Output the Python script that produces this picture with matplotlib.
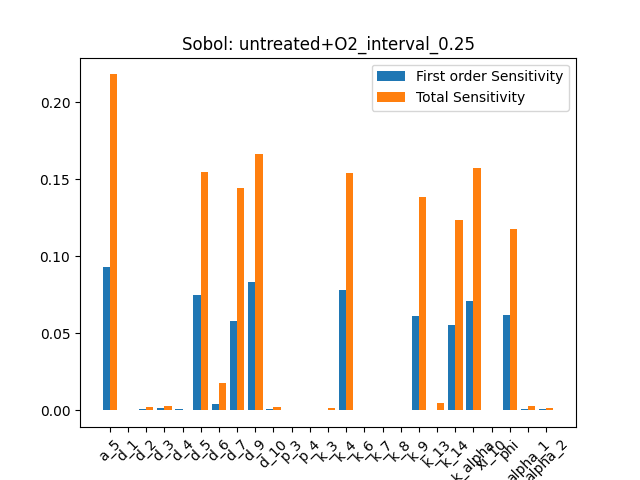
import matplotlib
matplotlib.use("Agg")
import matplotlib.pyplot as plt
import numpy as np

params = ['a_5', 'd_1', 'd_2', 'd_3', 'd_4', 'd_5', 'd_6', 'd_7', 'd_9', 'd_10',
          'p_3', 'p_4', 'k_3', 'k_4', 'k_6', 'k_7', 'k_8', 'k_9', 'k_13', 'k_14',
          'k_alpha', 'xi_10', 'phi', 'alpha_1', 'alpha_2']

# first order indices can come out slightly negative
first_order = [0.0929, 0.0, 0.0007, 0.0013, 0.0007, 0.0747, 0.0039, 0.0578, 0.0831, 0.0007,
               0.0, 0.0, 0.0, 0.0779, 0.0, 0.0, 0.0, 0.0610, -0.0002, 0.0552,
               0.0708, 0.0, 0.0617, 0.0006, 0.0006]

total = [0.2180, 0.0, 0.0020, 0.0026, 0.0, 0.1545, 0.0175, 0.1442, 0.1662, 0.0020,
         0.0, 0.0, 0.0013, 0.1539, 0.0, 0.0, 0.0, 0.1383, 0.0045, 0.1234,
         0.1571, 0.0, 0.1175, 0.0026, 0.0013]

x = np.arange(len(params))
w = 0.4

fig, ax = plt.subplots(figsize=(6.4, 4.8), dpi=100)
ax.bar(x - w / 2, first_order, w, label="First order Sensitivity")
ax.bar(x + w / 2, total, w, label="Total Sensitivity")
ax.set_xticks(x)
ax.set_xticklabels(params, rotation=45)
ax.set_title("Sobol: untreated+O2_interval_0.25")
ax.legend()
fig.savefig("out.png")
